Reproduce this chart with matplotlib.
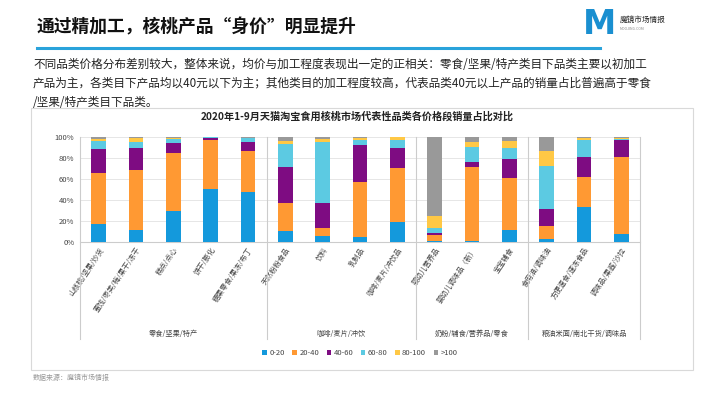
import numpy as np
import matplotlib.pyplot as plt
from matplotlib.lines import Line2D
from matplotlib.patches import Rectangle

plt.rcParams['font.family'] = ['Noto Sans CJK SC', 'DejaVu Sans']

# %% data
categories = ['山核桃/坚果/炒货', '蜜饯/枣类/梅/果干/冻干', '糕点/点心', '饼干/膨化',
              '糖果零食/果冻/布丁', '天然粉粉食品', '饮料', '乳制品', '咖啡/麦片/冲饮品',
              '婴幼儿营养品', '婴幼儿调味品（新）', '宝宝辅食', '食用油/调味油',
              '方便速食/速冻食品', '调味品/果酱/沙拉']
groups = ['零食/坚果/特产', '咖啡/麦片/冲饮', '奶粉/辅食/营养品/零食', '粮油米面/南北干货/调味品']
group_sizes = [5, 4, 3, 3]
price_bands = ['0-20', '20-40', '40-60', '60-80', '80-100', '>100']

p0_20 = [17, 11.5, 29, 50, 47.5, 10, 5.5, 4.5, 19, 0.5, 1, 11, 3, 33.5, 7.5]
p20_40 = [48, 57, 55, 47, 39, 27, 8, 52, 51.5, 5.5, 70.5, 49.5, 11.5, 28.5, 73]
p40_60 = [23.5, 21, 10, 2, 8, 34, 23, 35.5, 19, 2.5, 4.5, 18, 17, 18.5, 16]
p60_80 = [7, 5.5, 3.5, 0.5, 4, 22, 58.5, 5, 7, 5, 14, 11, 40.5, 16.5, 1.5]
p80_100 = [2.5, 3.5, 1, 0.3, 0.5, 3, 2.5, 2, 3, 10.5, 5, 6.5, 14.5, 1.5, 0.5]
p100 = [2, 1.5, 1.5, 0.2, 1, 4, 2.5, 1, 0.5, 76, 5, 4, 13.5, 1.5, 1.5]

colors = ['#1499DC', '#FF9933', '#7E0C82', '#5CCAE2', '#FFC845', '#999999']

# %% page
fig = plt.figure(figsize=(7.1, 3.99), dpi=100)
W, H = 710, 399

def fx(x):
    return x / W

def fy(y):
    return 1 - y / H

fig.text(fx(37), fy(27), '通过精加工，核桃产品“身价”明显提升', fontsize=12.8,
         fontweight='bold', va='center', color='#111111')
fig.add_artist(Line2D([fx(37), fx(600)], [fy(48), fy(48)], color='#2AA3DB', lw=2.2))

# logo
fig.text(fx(600), fy(25), 'M', fontsize=24, fontweight='bold', color='#1A8FD0',
         ha='center', va='center', family='DejaVu Sans')
fig.text(fx(620), fy(20), '魔镜市场情报', fontsize=5.5, va='center', color='#222222')
fig.text(fx(620), fy(29), 'MOOJING.COM', fontsize=2.5, va='center', color='#888888')

para = ['不同品类价格分布差别较大，整体来说，均价与加工程度表现出一定的正相关：零食/坚果/特产类目下品类主要以初加工',
        '产品为主，各类目下产品均以40元以下为主；其他类目的加工程度较高，代表品类40元以上产品的销量占比普遍高于零食',
        '/坚果/特产类目下品类。']
for i, line in enumerate(para):
    fig.text(fx(33), fy(64 + i * 19), line, fontsize=8.4, va='center', color='#222222')

# chart frame
fig.add_artist(Rectangle((fx(31), fy(370)), fx(693) - fx(31), fy(108) - fy(370),
                         fill=False, ec='#D9D9D9', lw=0.8))
fig.text(fx(357), fy(117), '2020年1-9月天猫淘宝食用核桃市场代表性品类各价格段销量占比对比',
         fontsize=7.3, fontweight='bold', ha='center', va='center', color='#222222')

# %% chart
ax = fig.add_axes([fx(80), fy(241.7), fx(640) - fx(80), fy(136.7) - fy(241.7)])
x = np.arange(len(categories))
bottom = np.zeros(len(categories))
series = [p0_20, p20_40, p40_60, p60_80, p80_100, p100]
for vals, c, lab in zip(series, colors, price_bands):
    vals = np.array(vals, dtype=float)
    ax.bar(x, vals, 0.4, bottom=bottom, color=c, label=lab, zorder=3)
    bottom += vals

ax.set_xlim(-0.5, len(categories) - 0.5)
ax.set_ylim(0, 100)
ax.set_yticks(range(0, 101, 20))
ax.set_yticklabels([f'{v}%' for v in range(0, 101, 20)], fontsize=5.5, color='#444444')
ax.yaxis.grid(True, color='#E6E6E6', lw=0.7, zorder=0)
ax.tick_params(axis='y', length=0, pad=4)
for s in ['top', 'right', 'left']:
    ax.spines[s].set_visible(False)
ax.spines['bottom'].set_color('#CCCCCC')
ax.set_xticks(x)
ax.set_xticklabels(categories, rotation=56, ha='right', rotation_mode='anchor',
                   fontsize=5.2, color='#444444')
ax.tick_params(axis='x', length=0, pad=3)

# group separators and labels
edges = np.concatenate([[0], np.cumsum(group_sizes)]) - 0.5
for e in edges:
    ax.add_line(Line2D([e, e], [100, -93], color='#CCCCCC', lw=0.8,
                       transform=ax.transData, clip_on=False))
for g, a, b in zip(groups, edges[:-1], edges[1:]):
    ax.text((a + b) / 2, -88, g, fontsize=5.2, ha='center', va='center', color='#444444')

handles, labels = ax.get_legend_handles_labels()
fig.legend(handles, labels, loc='center', bbox_to_anchor=(fx(360), fy(353)), ncol=6,
           frameon=False, fontsize=5.5, handlelength=0.6, handleheight=0.6,
           columnspacing=1.0, handletextpad=0.3, labelcolor='#444444')

fig.text(fx(33), fy(378), '数据来源：魔镜市场情报', fontsize=5, va='center', color='#999999')

fig.savefig('out.png', dpi=100)
